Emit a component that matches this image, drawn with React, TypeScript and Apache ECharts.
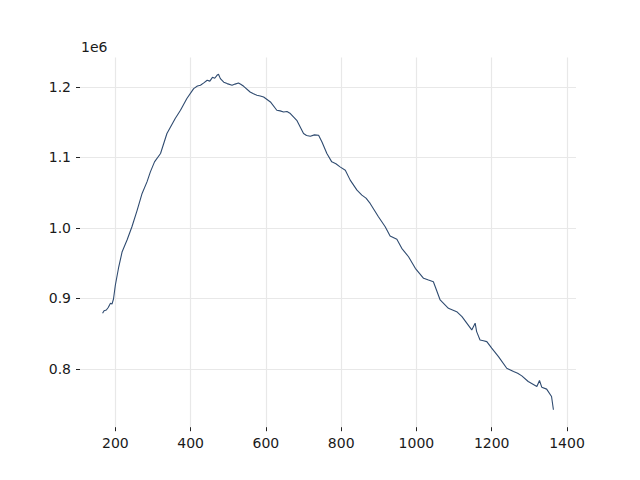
import React, { useEffect, useRef } from "react";
import * as echarts from "echarts";

const xValues: number[] = [
  166, 170, 176, 181, 187, 191, 195, 200, 209, 218, 231, 244, 258, 271, 284, 293, 304, 320, 337, 359, 373, 390, 408,
  418, 426, 435, 444, 451, 458, 464, 470, 474, 479, 488, 497, 510, 518, 527, 533, 541, 558, 567, 576, 585, 594, 612, 629, 638, 647, 656, 665, 682, 700, 708, 718,
  729, 740, 749, 762, 775, 786, 797, 811, 824, 842, 855, 866, 877, 899, 917, 930, 948, 961, 979, 997, 1019, 1032, 1045, 1050,
  1063, 1085, 1096, 1107, 1121, 1147, 1156, 1160, 1169, 1178, 1187, 1200, 1218, 1240, 1258, 1269, 1280, 1297, 1320, 1327, 1333, 1346, 1359,
  1364,
];

const yValues: number[] = [
  879000, 882500, 883700, 887200, 893200, 892100, 899300, 919100, 945000, 966300, 982900, 1001700, 1025400, 1049000, 1065400, 1079600, 1093800, 1105700, 1134000, 1155200, 1167000, 1183600, 1197700,
  1201300, 1202400, 1205800, 1209500, 1208300, 1213700, 1212400, 1216600, 1218000, 1211900, 1206900, 1204800, 1202400, 1204100, 1205700, 1203900, 1201000, 1192900, 1190400, 1188200, 1187300, 1185800, 1178800, 1167000, 1166100, 1164600, 1165200, 1162300, 1152800, 1134000, 1131300, 1130200,
  1132100, 1131600, 1122100, 1105700, 1093800, 1091200, 1086700, 1082000, 1067900, 1053700, 1046600, 1042300, 1034800, 1015900, 1001700, 988500, 983900, 971100, 959200, 942800, 928600, 926100, 923800, 916700,
  897900, 886100, 883800, 881300, 874200, 855400, 864900, 853000, 841200, 840100, 838800, 829500, 817600, 801100, 796300, 793800, 790200, 782200, 775100, 783600, 774200, 771400, 760900,
  742100,
];

const xTicks: number[] = [200, 400, 600, 800, 1000, 1200, 1400];
const yTicks: number[] = [800000, 900000, 1000000, 1100000, 1200000];

const X_MIN = 106;
const X_MAX = 1424;
const Y_MIN = 717400;
const Y_MAX = 1241700;

export default function App() {
  const ref = useRef<HTMLDivElement>(null);
  useEffect(() => {
    if (!ref.current) return;
    const chart = echarts.init(ref.current, null, { renderer: "svg" });
    const data = xValues.map((x, i) => [x, yValues[i]]);
    const font = "DejaVu Sans";
    chart.setOption({
      animation: false,
      backgroundColor: "#ffffff",
      grid: { left: 80, right: 64, top: 57.6, bottom: 52.8, containLabel: false },
      graphic: [
        {
          type: "text",
          left: 81,
          top: 40,
          style: { text: "1e6", font: `14px '${font}'`, fill: "#1a1a1a" },
        },
      ],
      xAxis: {
        type: "value",
        min: X_MIN,
        max: X_MAX,
        axisLine: { show: false },
        axisTick: { show: true, length: 4, lineStyle: { color: "#222222", width: 1 }, customValues: xTicks },
        axisLabel: {
          customValues: xTicks,
          margin: 9,
          fontFamily: font,
          fontSize: 14,
          color: "#1a1a1a",
          formatter: (v: number) => String(Math.round(v)),
        },
        splitLine: { show: true, lineStyle: { color: "#e8e8e8", width: 1.2 } },
      },
      yAxis: {
        type: "value",
        min: Y_MIN,
        max: Y_MAX,
        axisLine: { show: false },
        axisTick: { show: true, length: 4, lineStyle: { color: "#222222", width: 1 }, customValues: yTicks },
        axisLabel: {
          customValues: yTicks,
          margin: 9,
          fontFamily: font,
          fontSize: 14,
          color: "#1a1a1a",
          formatter: (v: number) => (v / 1e6).toFixed(1),
        },
        splitLine: { show: true, lineStyle: { color: "#e8e8e8", width: 1.2 } },
      },
      series: [
        {
          type: "line",
          data,
          showSymbol: false,
          symbol: "none",
          lineStyle: { color: "#2f4b70", width: 1.1 },
        },
      ],
    });
    return () => chart.dispose();
  }, []);
  return <div ref={ref} style={{ width: 640, height: 480, position: "absolute", left: 0, top: 0 }} />;
}
